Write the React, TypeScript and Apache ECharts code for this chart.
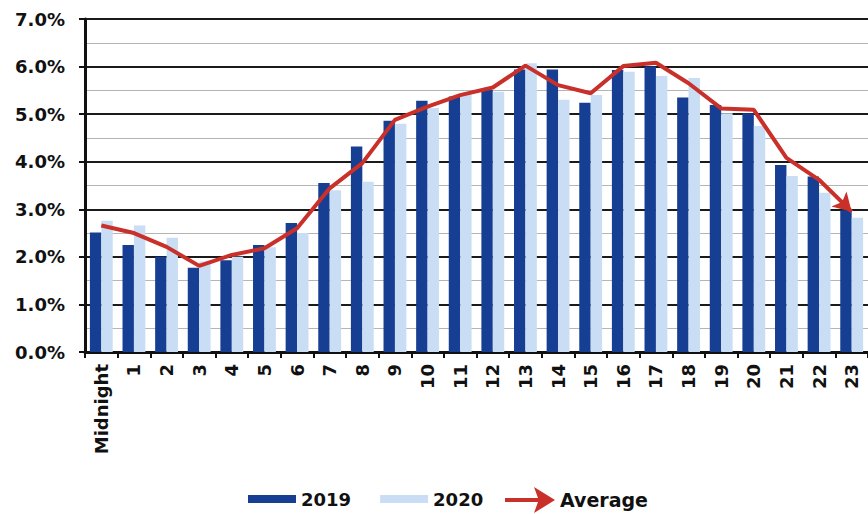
import React, { useEffect, useRef } from "react";
import * as echarts from "echarts";

const categories = ["Midnight", "1", "2", "3", "4", "5", "6", "7", "8", "9", "10", "11", "12", "13", "14", "15", "16", "17", "18", "19", "20", "21", "22", "23"];
const values2019 = [2.51, 2.25, 2.0, 1.77, 1.93, 2.25, 2.71, 3.55, 4.32, 4.86, 5.28, 5.37, 5.51, 5.94, 5.94, 5.24, 5.93, 6.0, 5.35, 5.19, 5.02, 3.93, 3.69, 2.98];
const values2020 = [2.76, 2.66, 2.4, 1.9, 2.0, 2.2, 2.5, 3.4, 3.58, 4.8, 5.13, 5.42, 5.47, 6.07, 5.3, 5.4, 5.89, 5.8, 5.76, 5.02, 4.75, 3.7, 3.35, 2.82];
const valuesAvg = [2.66, 2.5, 2.21, 1.81, 2.04, 2.18, 2.6, 3.44, 3.97, 4.88, 5.16, 5.4, 5.56, 6.02, 5.61, 5.44, 6.01, 6.08, 5.65, 5.12, 5.09, 4.08, 3.62, 2.95];
const yTicks = [0, 1, 2, 3, 4, 5, 6, 7];

const DARK = "#163e93";
const LIGHT = "#c9def4";
const RED = "#c9302a";
const FONT = "DejaVu Sans";
const ARROW = "path://M0,11 L33,11 L29,0 L50,13 L29,26 L33,15 L0,15 Z";

export default function App() {
  const ref = useRef<HTMLDivElement>(null);
  useEffect(() => {
    if (!ref.current) return;
    const chart = echarts.init(ref.current, null, { renderer: "svg" });
    const avgData: any[] = valuesAvg.map((v, i) =>
      i === valuesAvg.length - 1
        ? { value: v, symbol: "arrow", symbolSize: [16, 18], symbolRotate: -135, itemStyle: { color: RED } }
        : v
    );
    chart.setOption({
      animation: false,
      backgroundColor: "#ffffff",
      textStyle: { fontFamily: FONT },
      grid: { left: 85, top: 19, bottom: 162, right: -3, containLabel: false },
      legend: [
        {
          data: ["2019", "2020"],
          left: 248,
          top: 490,
          padding: 0,
          itemWidth: 48,
          itemHeight: 8,
          itemGap: 29,
          icon: "rect",
          textStyle: { fontFamily: FONT, fontWeight: "bold", fontSize: 18, color: "#111" },
        },
        {
          data: [{ name: "Average", icon: ARROW }],
          left: 505,
          top: 487,
          padding: 0,
          itemWidth: 50,
          itemHeight: 26,
          itemStyle: { color: RED },
          textStyle: { fontFamily: FONT, fontWeight: "bold", fontSize: 19, color: "#111" },
        },
      ],
      xAxis: {
        type: "category",
        data: categories,
        boundaryGap: true,
        axisLine: { lineStyle: { color: "#111", width: 3 } },
        axisTick: { show: true, length: 6, lineStyle: { color: "#111", width: 2 } },
        axisLabel: {
          rotate: 90,
          interval: 0,
          margin: 12,
          fontFamily: FONT,
          fontWeight: "bold",
          fontSize: 18,
          color: "#111",
        },
      },
      yAxis: {
        type: "value",
        min: yTicks[0],
        max: yTicks[yTicks.length - 1],
        interval: 1,
        axisLine: { show: true, lineStyle: { color: "#111", width: 3 } },
        axisTick: { show: true, length: 6, lineStyle: { color: "#111", width: 2 } },
        axisLabel: {
          margin: 20,
          fontFamily: FONT,
          fontWeight: "bold",
          fontSize: 18,
          color: "#111",
          formatter: (v: number) => v.toFixed(1) + "%",
        },
        splitLine: { show: true, lineStyle: { color: "#1a1a1a", width: 2 } },
        minorTick: { show: false, splitNumber: 2 },
        minorSplitLine: { show: true, lineStyle: { color: "#b5b5b5", width: 1 } },
      },
      series: [
        {
          name: "2019",
          type: "bar",
          data: values2019,
          barGap: "0%",
          barCategoryGap: "30%",
          itemStyle: { color: DARK },
        },
        {
          name: "2020",
          type: "bar",
          data: values2020,
          itemStyle: { color: LIGHT },
        },
        {
          name: "Average",
          type: "line",
          data: avgData,
          symbol: "none",
          showSymbol: true,
          lineStyle: { color: RED, width: 4 },
          itemStyle: { color: RED },
          z: 5,
        },
      ],
    });
    return () => chart.dispose();
  }, []);
  return <div ref={ref} style={{ width: 868, height: 514, position: "absolute", left: 0, top: 0 }} />;
}
